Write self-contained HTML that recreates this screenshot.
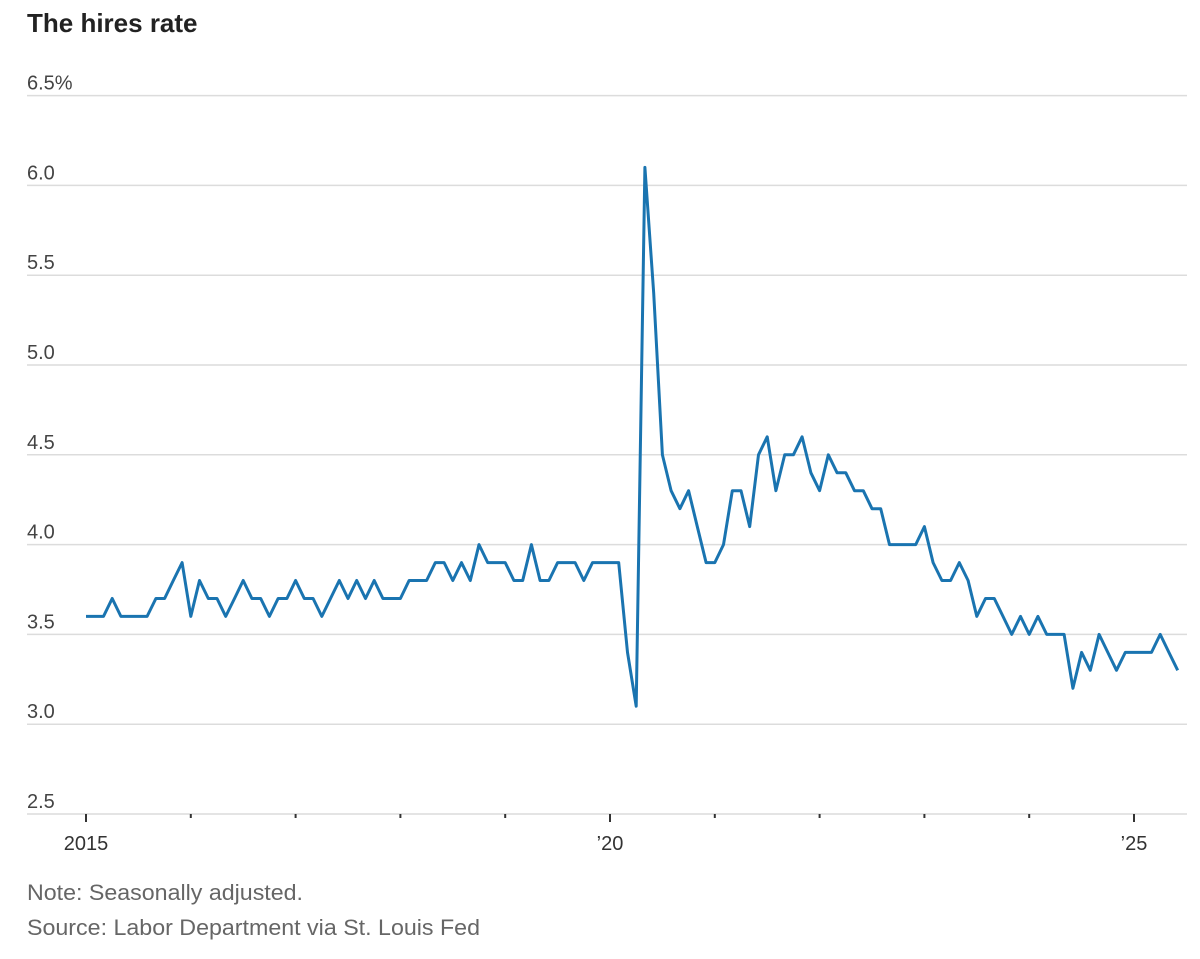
<!DOCTYPE html>
<html><head><meta charset="utf-8"><style>
body{margin:0;background:#fff;width:1200px;height:954px;overflow:hidden;font-family:"Liberation Sans",sans-serif}
</style></head><body>
<svg width="1200" height="954" xmlns="http://www.w3.org/2000/svg" font-family="Liberation Sans, sans-serif">
<text x="27" y="32" font-size="26" font-weight="bold" fill="#222">The hires rate</text>
<g id="grid" stroke="#dcdcdc" stroke-width="1.5"></g>
<g id="lbl" font-size="20" fill="#444"></g>
<g id="ticks" stroke="#333" stroke-width="2"></g>
<polyline id="line" fill="none" stroke="#1a74b0" stroke-width="3" stroke-linejoin="round"/>
<text x="86" y="850" font-size="20" fill="#333" text-anchor="middle">2015</text>
<text x="610" y="850" font-size="20" fill="#333" text-anchor="middle">’20</text>
<text x="1134" y="850" font-size="20" fill="#333" text-anchor="middle">’25</text>
<text x="27" y="900" font-size="22" fill="#666" textLength="276" lengthAdjust="spacingAndGlyphs">Note: Seasonally adjusted.</text>
<text x="27" y="935" font-size="22" fill="#666" textLength="453" lengthAdjust="spacingAndGlyphs">Source: Labor Department via St. Louis Fed</text>
</svg>
<script>
var ns="http://www.w3.org/2000/svg";
function Y(v){return 814-(v-2.5)*179.6;}
var g=document.getElementById('grid'),l=document.getElementById('lbl'),t=document.getElementById('ticks');
var labs=["2.5","3.0","3.5","4.0","4.5","5.0","5.5","6.0","6.5%"];
for(var i=0;i<9;i++){var v=2.5+i*0.5,y=Y(v);
var ln=document.createElementNS(ns,'line');ln.setAttribute('x1',27);ln.setAttribute('x2',1187);ln.setAttribute('y1',y);ln.setAttribute('y2',y);g.appendChild(ln);
var tx=document.createElementNS(ns,'text');tx.setAttribute('x',27);tx.setAttribute('y',y-6);tx.textContent=labs[i];l.appendChild(tx);}
for(var k=0;k<=10;k++){var x=86+k*104.8;var tk=document.createElementNS(ns,'line');tk.setAttribute('x1',x);tk.setAttribute('x2',x);tk.setAttribute('y1',814);tk.setAttribute('y2',k%5==0?822:818);t.appendChild(tk);}
var d=[3.6,3.6,3.6,3.7,3.6,3.6,3.6,3.6,3.7,3.7,3.8,3.9,3.6,3.8,3.7,3.7,3.6,3.7,3.8,3.7,3.7,3.6,3.7,3.7,3.8,3.7,3.7,3.6,3.7,3.8,3.7,3.8,3.7,3.8,3.7,3.7,3.7,3.8,3.8,3.8,3.9,3.9,3.8,3.9,3.8,4.0,3.9,3.9,3.9,3.8,3.8,4.0,3.8,3.8,3.9,3.9,3.9,3.8,3.9,3.9,3.9,3.9,3.4,3.1,6.1,5.4,4.5,4.3,4.2,4.3,4.1,3.9,3.9,4.0,4.3,4.3,4.1,4.5,4.6,4.3,4.5,4.5,4.6,4.4,4.3,4.5,4.4,4.4,4.3,4.3,4.2,4.2,4.0,4.0,4.0,4.0,4.1,3.9,3.8,3.8,3.9,3.8,3.6,3.7,3.7,3.6,3.5,3.6,3.5,3.6,3.5,3.5,3.5,3.2,3.4,3.3,3.5,3.4,3.3,3.4,3.4,3.4,3.4,3.5,3.4,3.3];
var p=d.map(function(v,i){return (86+i*8.7333).toFixed(1)+","+Y(v).toFixed(1);}).join(" ");
document.getElementById('line').setAttribute('points',p);
</script>
</body></html>
